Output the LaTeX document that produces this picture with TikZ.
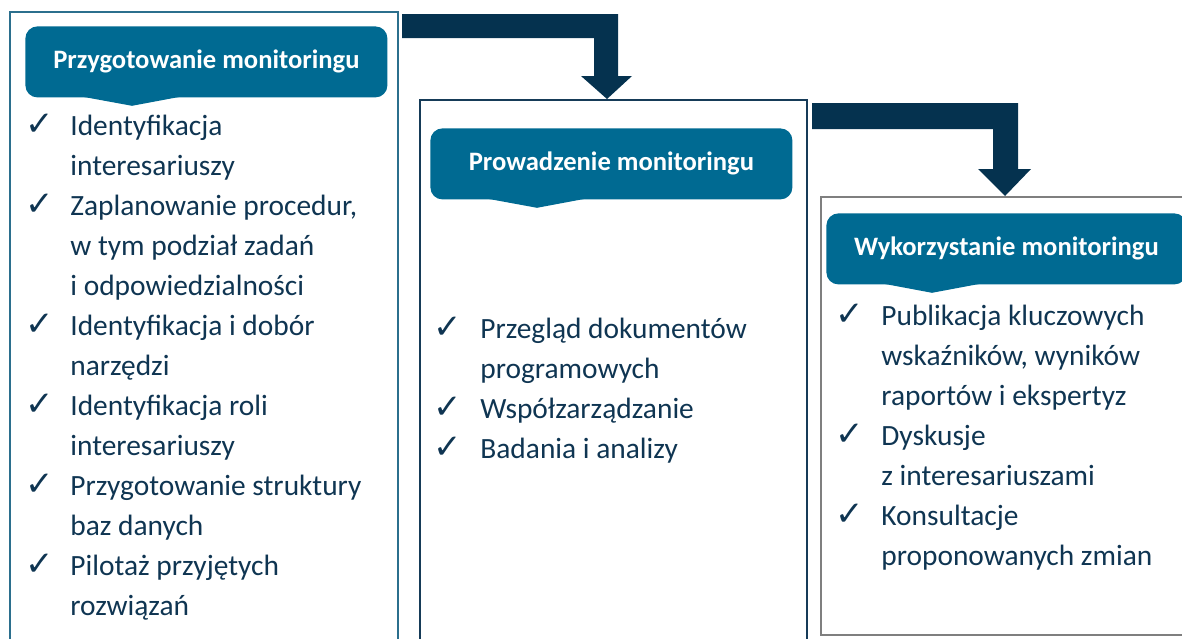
\documentclass[tikz,border=0pt]{standalone}
\usepackage{fontspec}
\setmainfont{Carlito}
\newfontfamily\symfont{DejaVu Sans}
\usepackage{xcolor}
\usetikzlibrary{positioning,calc}

\definecolor{hdrblue}{HTML}{006A92}
\definecolor{arrnavy}{HTML}{05324F}
\definecolor{txtnavy}{HTML}{0F3552}
\definecolor{edgeteal}{HTML}{2B6F8D}
\definecolor{edgenavy}{HTML}{163B58}
\definecolor{edgegray}{HTML}{7F7F7F}

\tikzset{
  header/.style={fill=hdrblue, rounded corners=6pt, text=white, inner sep=0pt,
    anchor=north west, minimum width=181pt, minimum height=35.5pt,
    font=\fontsize{13.3}{15}\selectfont\bfseries},
  item/.style={anchor=base west, text=txtnavy, align=left, inner sep=0pt,
    font=\fontsize{14.7}{20}\selectfont},
  tick/.style={anchor=base west, text=txtnavy, inner sep=0pt,
    font=\symfont\fontsize{17}{20}\selectfont},
  blockarrow/.style={fill=arrnavy},
}

\begin{document}
\begin{tikzpicture}[x=0.5pt, y=-0.5pt]
\useasboundingbox (0,0) rectangle (1182,638);

% panels
\draw[edgeteal, line width=1pt] (10,12) rectangle (398,660);
\draw[edgenavy, line width=1pt] (420,100) rectangle (807,660);
\draw[edgegray, line width=1pt] (821,197) rectangle (1192,635);

% block arrows
\fill[blockarrow] (402,14) -- (618,14) -- (618,76) -- (632,76) -- (607,99)
  -- (581,76) -- (594,76) -- (594,38) -- (402,38) -- cycle;
\fill[blockarrow] (812,103) -- (1018,103) -- (1018,169) -- (1031,169) -- (1005,196)
  -- (978,169) -- (993,169) -- (993,129) -- (812,129) -- cycle;

% headers
\node[header] (h1) at (25,26) {Przygotowanie monitoringu};
\fill[hdrblue] ($(h1.south west)+(58,-1)$) -- ($(h1.south west)+(107,8)$) -- ($(h1.south west)+(155,-1)$) -- cycle;
\node[header] (h2) at (430,128) {Prowadzenie monitoringu};
\fill[hdrblue] ($(h2.south west)+(58,-1)$) -- ($(h2.south west)+(107,8)$) -- ($(h2.south west)+(155,-1)$) -- cycle;
\node[header, minimum width=180pt] (h3) at (826,213) {Wykorzystanie monitoringu};
\fill[hdrblue] ($(h3.south west)+(58,-1)$) -- ($(h3.south west)+(106,8)$) -- ($(h3.south west)+(154,-1)$) -- cycle;

% first column (item nodes sit on the baseline of their last line)
\node[tick] (t1a) at (25,135) {✓};
\node[item] (i1a) at (70,175) {Identyfikacja\\interesariuszy};
\node[tick] (t1b) at (25,215) {✓};
\node[item] (i1b) at (70,295) {Zaplanowanie procedur,\\w tym podział zadań\\i odpowiedzialności};
\node[tick] (t1c) at (25,335) {✓};
\node[item] (i1c) at (70,375) {Identyfikacja i dobór\\narzędzi};
\node[tick] (t1d) at (25,415) {✓};
\node[item] (i1d) at (70,455) {Identyfikacja roli\\interesariuszy};
\node[tick] (t1e) at (25,495) {✓};
\node[item] (i1e) at (70,535) {Przygotowanie struktury\\baz danych};
\node[tick] (t1f) at (25,575) {✓};
\node[item] (i1f) at (70,615) {Pilotaż przyjętych\\rozwiązań};

% second column
\node[tick] (t2a) at (433,338) {✓};
\node[item] (i2a) at (480,378) {Przegląd dokumentów\\programowych};
\node[tick] (t2b) at (433,418) {✓};
\node[item] (i2b) at (480,418) {Współzarządzanie};
\node[tick] (t2c) at (433,458) {✓};
\node[item] (i2c) at (480,458) {Badania i analizy};

% third column
\node[tick] (t3a) at (835,325) {✓};
\node[item] (i3a) at (881,405) {Publikacja kluczowych\\wskaźników, wyników\\raportów i ekspertyz};
\node[tick] (t3b) at (835,445) {✓};
\node[item] (i3b) at (881,485) {Dyskusje\\z interesariuszami};
\node[tick] (t3c) at (835,525) {✓};
\node[item] (i3c) at (881,565) {Konsultacje\\proponowanych zmian};
\end{tikzpicture}
\end{document}
